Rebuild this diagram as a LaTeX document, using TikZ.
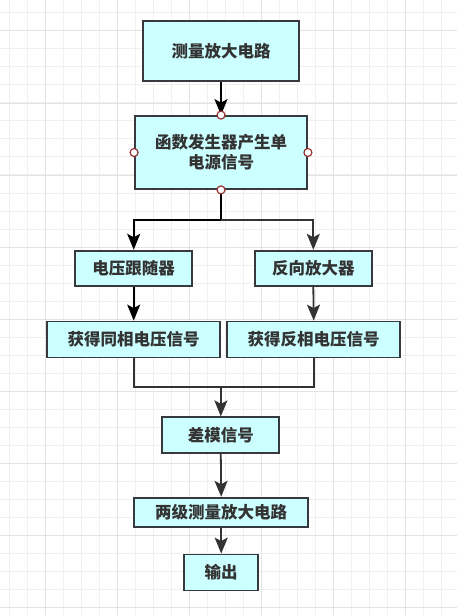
\documentclass[tikz,border=0pt]{standalone}
\usepackage{fontspec}
\newfontfamily\cjk{Noto Sans CJK SC}
\usetikzlibrary{arrows.meta}
\definecolor{boxfill}{HTML}{CCFFFF}
\definecolor{boxline}{HTML}{36393D}
\definecolor{txt}{HTML}{333333}
\definecolor{gridminor}{HTML}{F0F0F0}
\definecolor{gridmajor}{HTML}{E3E3E3}
\definecolor{port}{HTML}{993333}
\tikzset{
  box/.style={draw=boxline, line width=1.8pt, fill=boxfill, rectangle, inner sep=0pt,
    text=txt, font=\cjk\bfseries\fontsize{16.5}{20}\selectfont, align=center},
  tipa/.tip={Stealth[length=16pt,width=13pt,inset=3.5pt]},
  conn/.style={draw=txt, line width=1.8pt, -tipa},
  connb/.style={conn, draw=black},
  plain/.style={draw=txt, line width=1.8pt},
  portc/.style={circle, draw=port, line width=1.2pt, fill=white, minimum size=8pt, inner sep=0pt}
}
\begin{document}
\begin{tikzpicture}[x=1pt,y=-1pt]
\useasboundingbox (0,0) rectangle (457,615);
\fill[white] (0,0) rectangle (457,615);
% grid
\foreach \i in {0,...,25} {
  \pgfmathsetmacro{\gx}{9+18*\i}
  \draw[gridminor, line width=1pt] (\gx,0) -- (\gx,615);
}
\foreach \i in {0,...,34} {
  \pgfmathsetmacro{\gy}{12.8+18.02*\i}
  \draw[gridminor, line width=1pt] (0,\gy) -- (457,\gy);
}
\foreach \i in {0,...,6} {
  \pgfmathsetmacro{\gx}{45+72*\i}
  \draw[gridmajor, line width=1pt] (\gx,0) -- (\gx,615);
}
\foreach \i in {0,...,8} {
  \pgfmathsetmacro{\gy}{31+72.1*\i}
  \draw[gridmajor, line width=1pt] (0,\gy) -- (457,\gy);
}
% nodes
\node[box, minimum width=156pt, minimum height=60pt] (amp) at (221,51) {测量放大电路};
\node[box, minimum width=172pt, minimum height=73pt] (gen) at (221,152.5) {函数发生器产生单\\电源信号};
\node[box, minimum width=117pt, minimum height=35pt] (vf) at (133.7,268.2) {电压跟随器};
\node[box, minimum width=117pt, minimum height=35pt] (inv) at (313.3,268.2) {反向放大器};
\node[box, minimum width=173pt, minimum height=36pt] (same) at (133.7,339.5) {获得同相电压信号};
\node[box, minimum width=173pt, minimum height=36pt] (opp) at (313.7,339.5) {获得反相电压信号};
\node[box, minimum width=117pt, minimum height=36pt] (diff) at (220.8,435.3) {差模信号};
\node[box, minimum width=174pt, minimum height=29pt] (two) at (221.2,512.2) {两级测量放大电路};
\node[box, minimum width=74pt, minimum height=36pt] (out) at (221.2,572.5) {输出};
\coordinate (split) at (221,220);
\coordinate (merge) at (221,386.7);
% connectors
\draw[connb] (amp.south) -- (gen.north);
\draw[connb] (gen.south) -- (split) -| (vf.north);
\draw[conn] (split) -| (inv.north);
\draw[connb] (vf.south) -- (same.north);
\draw[conn] (inv.south) -- (opp.north);
\draw[plain] (same.south) |- (merge);
\draw[plain] (opp.south) |- (merge);
\draw[conn] (merge) -- (diff.north);
\draw[conn] (diff.south) -- (two.north);
\draw[conn] (two.south) -- (out.north);
% ports
\node[portc] (pn) at (gen.north) {};
\node[portc] (pw) at (gen.west) {};
\node[portc] (pe) at (gen.east) {};
\node[portc] (ps) at (gen.south) {};
\end{tikzpicture}
\end{document}
